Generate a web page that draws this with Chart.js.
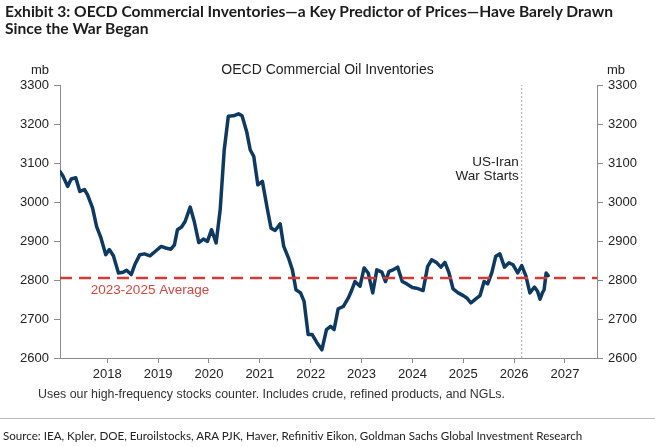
<!DOCTYPE html>
<html>
<head>
<meta charset="utf-8">
<script src="https://cdn.jsdelivr.net/npm/chart.js@4.4.1/dist/chart.umd.min.js"></script>
<style>
body { margin: 0; background: #fff; }
#wrap { position: relative; width: 655px; height: 447px; overflow: hidden; font-family: "Liberation Sans", Arial, sans-serif; color: #222; }
#grafik { position: absolute; left: 0; top: 0; }
.teks { position: absolute; white-space: nowrap; }
#judul { left: 5px; top: 3px; font: bold 15.6px Lato, sans-serif; line-height: 17px; color: #1c1c1c; }
#subjudul { left: 0; width: 655px; top: 61px; text-align: center; font-size: 14px; }
#mbKiri { left: 31px; top: 62px; font-size: 13px; }
#mbKanan { left: 607px; top: 62px; font-size: 13px; }
#catatan { left: 38px; top: 387px; font-size: 12.4px; color: #333; }
#garis { position: absolute; left: 0; top: 418px; width: 655px; height: 0; border-top: 1.5px solid #b9b9b9; }
#sumber { left: 3px; top: 429px; font: 11.6px Lato, sans-serif; color: #222; }
</style>
</head>
<body>
<div id="wrap">
  <canvas id="grafik" width="655" height="447"></canvas>
  <div class="teks" id="judul">Exhibit 3: OECD Commercial Inventories—a Key Predictor of Prices—Have Barely Drawn<br>Since the War Began</div>
  <div class="teks" id="subjudul">OECD Commercial Oil Inventories</div>
  <div class="teks" id="mbKiri">mb</div>
  <div class="teks" id="mbKanan">mb</div>
  <div class="teks" id="catatan">Uses our high-frequency stocks counter. Includes crude, refined products, and NGLs.</div>
  <div id="garis"></div>
  <div class="teks" id="sumber">Source: IEA, Kpler, DOE, Euroilstocks, ARA PJK, Haver, Refinitiv Eikon, Goldman Sachs Global Investment Research</div>
</div>
<script>
// Data (tahun desimal, juta barel)
const dates = [
  2017.07, 2017.13, 2017.22, 2017.29, 2017.38, 2017.46, 2017.55, 2017.61, 2017.71, 2017.79, 2017.87, 2017.97,
  2018.04, 2018.12, 2018.22, 2018.31, 2018.38, 2018.47, 2018.54, 2018.64, 2018.73, 2018.84, 2018.94,
  2019.06, 2019.15, 2019.25, 2019.32, 2019.38, 2019.46, 2019.53, 2019.63, 2019.71, 2019.80, 2019.89, 2019.97,
  2020.05, 2020.14, 2020.22, 2020.30, 2020.38, 2020.48, 2020.58, 2020.65, 2020.74, 2020.81, 2020.88, 2020.96,
  2021.05, 2021.15, 2021.22, 2021.30, 2021.40, 2021.47, 2021.57, 2021.64, 2021.71, 2021.80, 2021.87, 2021.95,
  2022.03, 2022.12, 2022.22, 2022.31, 2022.39, 2022.46, 2022.54, 2022.64, 2022.74, 2022.81, 2022.87, 2022.97,
  2023.05, 2023.13, 2023.22, 2023.30, 2023.40, 2023.47, 2023.54, 2023.62, 2023.71, 2023.80, 2023.89,
  2024.00, 2024.08, 2024.15, 2024.21, 2024.30, 2024.38, 2024.48, 2024.56, 2024.64, 2024.72, 2024.80, 2024.90,
  2025.00, 2025.07, 2025.15, 2025.24, 2025.33, 2025.41, 2025.48, 2025.56, 2025.64, 2025.72, 2025.81, 2025.90, 2025.98,
  2026.07, 2026.15, 2026.23, 2026.31, 2026.40, 2026.46, 2026.51, 2026.56, 2026.59, 2026.63, 2026.67
];
const inventories = [
  3078, 3066, 3040, 3059, 3062, 3027, 3032, 3019, 2985, 2937, 2910, 2865,
  2878, 2862, 2818, 2820, 2825, 2814, 2839, 2865, 2867, 2862, 2873,
  2886, 2882, 2879, 2890, 2929, 2936, 2950, 2987, 2950, 2896, 2905, 2899,
  2929, 2895, 2980, 3134, 3220, 3221, 3226, 3221, 3181, 3134, 3117, 3044,
  3053, 2980, 2933, 2927, 2944, 2886, 2854, 2826, 2775, 2767, 2745, 2660,
  2660, 2640, 2621, 2673, 2681, 2673, 2726, 2732, 2754, 2775, 2796, 2784,
  2831, 2818, 2767, 2826, 2820, 2796, 2822, 2826, 2833, 2796, 2790,
  2781, 2779, 2776, 2773, 2835, 2852, 2844, 2833, 2845, 2818, 2777, 2767,
  2760, 2754, 2741, 2751, 2760, 2796, 2790, 2818, 2861, 2867, 2833, 2844, 2839,
  2818, 2837, 2811, 2767, 2782, 2771, 2751, 2768, 2775, 2818, 2811
];
const yearTicks = [2018, 2019, 2020, 2021, 2022, 2023, 2024, 2025, 2026, 2027];
const xRange = [2017.07, 2027.63];
const yRange = [2600, 3300];
const average = 2805;           // rata-rata 2023-2025
const warDate = 2026.15;        // US-Iran War Starts

const fontChart = '"Liberation Sans", Arial, sans-serif';
Chart.defaults.font.family = fontChart;
Chart.defaults.font.size = 13;
Chart.defaults.color = '#222';

// Label teks di dalam area grafik
const labelPlugin = {
  id: 'labelTeks',
  afterDatasetsDraw(chart) {
    const { ctx, scales: { x, y } } = chart;
    ctx.save();
    ctx.font = '13.5px ' + fontChart;
    ctx.textBaseline = 'middle';
    ctx.textAlign = 'center';
    ctx.fillStyle = '#d2473f';
    ctx.fillText('2023-2025 Average', x.getPixelForValue(2018.84), y.getPixelForValue(2774));
    ctx.fillStyle = '#222';
    ctx.textAlign = 'right';
    ctx.fillText('US-Iran', x.getPixelForValue(warDate) - 3, y.getPixelForValue(3101));
    ctx.fillText('War Starts', x.getPixelForValue(warDate) - 3, y.getPixelForValue(3065));
    ctx.restore();
  }
};

function sumbuY(posisi, lebar) {
  return {
    type: 'linear',
    position: posisi,
    min: yRange[0],
    max: yRange[1],
    ticks: { stepSize: 100, padding: 5, callback: v => String(v) },
    grid: { drawOnChartArea: false, tickLength: 6, color: '#8c8c8c' },
    border: { color: '#8c8c8c', width: 1 },
    afterFit: s => { s.width = lebar; }
  };
}

const ctx = document.getElementById('grafik').getContext('2d');
new Chart(ctx, {
  type: 'line',
  data: {
    datasets: [
      {
        label: '2023-2025 Average',
        data: xRange.map(v => ({ x: v, y: average })),
        borderColor: '#d43a36',
        borderWidth: 2.5,
        borderDash: [12, 7],
        pointRadius: 0,
        order: 0
      },
      {
        label: 'War',
        data: yRange.map(v => ({ x: warDate, y: v })),
        borderColor: '#a8a8a8',
        borderWidth: 1,
        borderDash: [2, 2],
        pointRadius: 0,
        order: 2
      },
      {
        label: 'OECD Commercial Oil Inventories',
        data: dates.map((d, i) => ({ x: d, y: inventories[i] })),
        borderColor: '#0e3a62',
        borderWidth: 3.5,
        borderJoinStyle: 'round',
        borderCapStyle: 'round',
        tension: 0,
        pointRadius: 0,
        order: 1
      }
    ]
  },
  options: {
    responsive: false,
    animation: false,
    layout: { padding: { left: 0, right: 0, top: 85, bottom: 0 }, autoPadding: false },
    plugins: { legend: { display: false }, tooltip: { enabled: false } },
    scales: {
      x: {
        type: 'linear',
        min: xRange[0],
        max: xRange[1],
        afterBuildTicks: s => { s.ticks = yearTicks.map(v => ({ value: v })); },
        ticks: { padding: 4, maxRotation: 0, autoSkip: false, callback: v => String(v) },
        grid: { drawOnChartArea: false, tickLength: 5, color: '#8c8c8c' },
        border: { color: '#8c8c8c', width: 1 },
        afterFit: s => { s.height = 89; }
      },
      y: sumbuY('left', 60),
      y2: sumbuY('right', 58)
    }
  },
  plugins: [labelPlugin]
});
</script>
</body>
</html>
